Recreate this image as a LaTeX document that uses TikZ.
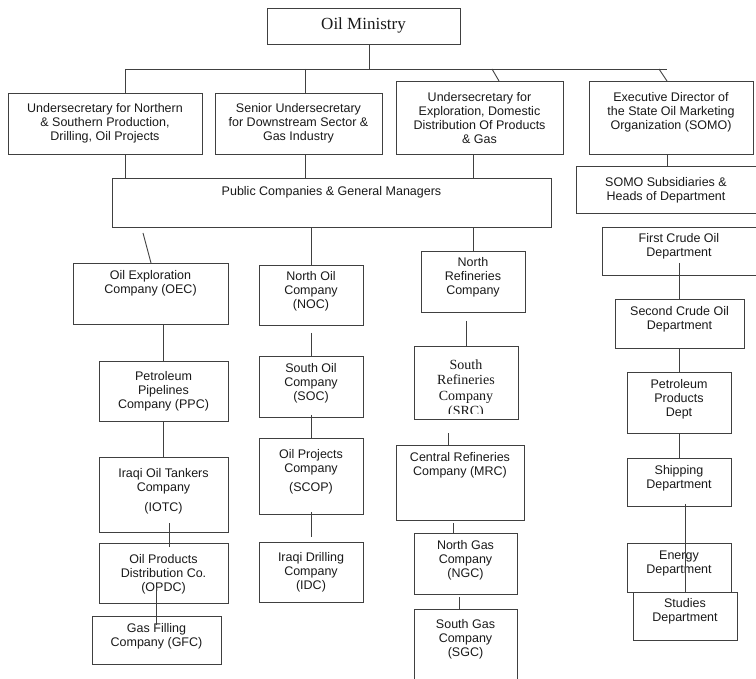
\documentclass[tikz,border=0pt]{standalone}
\usepackage{fontspec}
\setmainfont{Liberation Sans}
\newfontfamily\serifrm{Liberation Serif}
\usetikzlibrary{fit}
\tikzset{
  box/.style={draw=black!75, line width=0.9pt, inner sep=0pt},
  txt/.style={align=center, inner sep=0pt, font=\fontsize{12.5}{14}\selectfont, text=black!90},
  link/.style={draw=black!75, line width=0.9pt}
}
\newcommand\bx[5]{\node[box, fit={(#2,#3) (#4,#5)}] (#1) {};}
\begin{document}
\begin{tikzpicture}[x=1pt,y=-1pt]
\useasboundingbox (0,0) rectangle (756,679);
\clip (0,0) rectangle (756,679);
% boxes
\bx{min}{267}{8}{460}{44}
\bx{b1}{8}{93}{202}{154}
\bx{b2}{215}{93}{382}{154}
\bx{b3}{396}{81}{563}{154}
\bx{b4}{589}{81}{753}{154}
\bx{pub}{112}{178}{551}{227}
\bx{somo}{576}{166}{760}{213}
\bx{oec}{73}{263}{228}{324}
\bx{noc}{259}{265}{363}{325}
\bx{ppc}{99}{361}{228}{421}
\bx{iotc}{99}{457}{228}{532}
\bx{opdc}{99}{543}{228}{603}
\bx{gfc}{92}{616}{221}{664}
\bx{soc}{259}{356}{363}{417}
\bx{scop}{259}{438}{363}{514}
\bx{idc}{259}{542}{363}{602}
\bx{nrc}{421}{251}{525}{312}
\bx{src}{414}{346}{518}{419}
\bx{mrc}{396}{445}{524}{520}
\bx{ngc}{414}{533}{517}{594}
\bx{sgc}{414}{609}{517}{690}
\bx{fco}{602}{227}{760}{275}
\bx{sco}{615}{299}{744}{348}
\bx{ppd}{627}{372}{731}{433}
\bx{shp}{627}{458}{731}{506}
\bx{eng}{627}{543}{731}{592}
\bx{std}{633}{592}{737}{640}
% texts
\node[txt, font=\serifrm\fontsize{17}{20}\selectfont] (t-min) at (363.5,25) {Oil Ministry};
\node[txt] (t-b1) at (105,123.5) {Undersecretary for Northern\\\& Southern Production,\\Drilling, Oil Projects};
\node[txt] (t-b2) at (298.5,123.5) {Senior Undersecretary\\for Downstream Sector \&\\Gas Industry};
\node[txt] (t-b3) at (479.5,118.5) {Undersecretary for\\Exploration, Domestic\\Distribution Of Products\\\& Gas};
\node[txt] (t-b4) at (671,112) {Executive Director of\\the State Oil Marketing\\Organization (SOMO)};
\node[txt] (t-pub) at (331.5,192) {Public Companies \& General Managers};
\node[txt] (t-somo) at (666,190) {SOMO Subsidiaries \&\\Heads of Department};
\node[txt] (t-oec) at (150.5,283) {Oil Exploration\\Company (OEC)};
\node[txt] (t-noc) at (311,291) {North Oil\\Company\\(NOC)};
\node[txt] (t-ppc) at (163.5,391) {Petroleum\\Pipelines\\Company (PPC)};
\node[txt] (t-iotc) at (163.5,491.5) {Iraqi Oil Tankers\\Company\\[6pt](IOTC)};
\node[txt] (t-opdc) at (163.5,574) {Oil Products\\Distribution Co.\\(OPDC)};
\node[txt] (t-gfc) at (156.5,636) {Gas Filling\\Company (GFC)};
\node[txt] (t-soc) at (311,383) {South Oil\\Company\\(SOC)};
\node[txt] (t-scop) at (311,471.5) {Oil Projects\\Company\\[5pt](SCOP)};
\node[txt] (t-idc) at (311,572) {Iraqi Drilling\\Company\\(IDC)};
\node[txt] (t-nrc) at (473,277) {North\\Refineries\\Company};
\begin{scope}
\clip (414,346) rectangle (518,413.5);
\node[txt, font=\serifrm\fontsize{14}{15.5}\selectfont] (t-src) at (466,389) {South\\Refineries\\Company\\(SRC)};
\end{scope}
\node[txt] (t-mrc) at (460,465) {Central Refineries\\Company (MRC)};
\node[txt] (t-ngc) at (465.5,560) {North Gas\\Company\\(NGC)};
\node[txt] (t-sgc) at (465.5,639.5) {South Gas\\Company\\(SGC)};
\node[txt] (t-fco) at (679,246.5) {First Crude Oil\\Department};
\node[txt] (t-sco) at (679.5,319) {Second Crude Oil\\Department};
\node[txt] (t-ppd) at (679,399) {Petroleum\\Products\\Dept};
\node[txt] (t-shp) at (679,478) {Shipping\\Department};
\node[txt] (t-eng) at (679,563) {Energy\\Department};
\node[txt] (t-std) at (685,611.5) {Studies\\Department};
% connector coordinates
\coordinate (mA) at (369,69);
\coordinate (hL) at (125,69);
\coordinate (hR) at (667,69);
\coordinate (h2) at (305,69);
\coordinate (h3) at (492,69);
\coordinate (d3) at (499,81);
\coordinate (h4) at (659,69);
\coordinate (d4) at (667,81);
\coordinate (x3) at (473,0);
\coordinate (e1) at (143,233);
\coordinate (e2) at (151,263);
\coordinate (xn) at (311,0);
\coordinate (s1) at (311,333);
\coordinate (xo) at (163,0);
\coordinate (i1) at (169,523);
\coordinate (i2) at (169,547);
\coordinate (g1) at (156,587);
\coordinate (g2) at (156,625);
\coordinate (c1) at (311,415);
\coordinate (c2) at (311,512);
\coordinate (c3) at (311,537);
\coordinate (r1) at (466,321);
\coordinate (r2) at (448,433);
\coordinate (r3) at (453,523);
\coordinate (r4) at (459,597);
\coordinate (f1) at (679,263);
\coordinate (xs) at (679,0);
\coordinate (k1) at (685,504);
\coordinate (k2) at (685,592);
% connectors
\draw[link] (mA |- min.south) -- (mA);
\draw[link] (hL) -- (hR);
\draw[link] (hL) -- (hL |- b1.north);
\draw[link] (h2) -- (h2 |- b2.north);
\draw[link] (h3) -- (d3);
\draw[link] (h4) -- (d4);
\draw[link] (hL |- b1.south) -- (hL |- pub.north);
\draw[link] (h2 |- b2.south) -- (h2 |- pub.north);
\draw[link] (x3 |- b3.south) -- (x3 |- pub.north);
\draw[link] (d4 |- b4.south) -- (d4 |- somo.north);
\draw[link] (e1) -- (e2);
\draw[link] (xn |- pub.south) -- (xn |- noc.north);
\draw[link] (s1) -- (s1 |- soc.north);
\draw[link] (xo |- oec.south) -- (xo |- ppc.north);
\draw[link] (xo |- ppc.south) -- (xo |- iotc.north);
\draw[link] (i1) -- (i2);
\draw[link] (g1) -- (g2);
\draw[link] (c1) -- (c1 |- scop.north);
\draw[link] (c2) -- (c3);
\draw[link] (x3 |- pub.south) -- (x3 |- nrc.north);
\draw[link] (r1) -- (r1 |- src.north);
\draw[link] (r2) -- (r2 |- mrc.north);
\draw[link] (r3) -- (r3 |- ngc.north);
\draw[link] (r4) -- (r4 |- sgc.north);
\draw[link] (f1) -- (f1 |- sco.north);
\draw[link] (xs |- sco.south) -- (xs |- ppd.north);
\draw[link] (xs |- ppd.south) -- (xs |- shp.north);
\draw[link] (k1) -- (k2);
\end{tikzpicture}
\end{document}
